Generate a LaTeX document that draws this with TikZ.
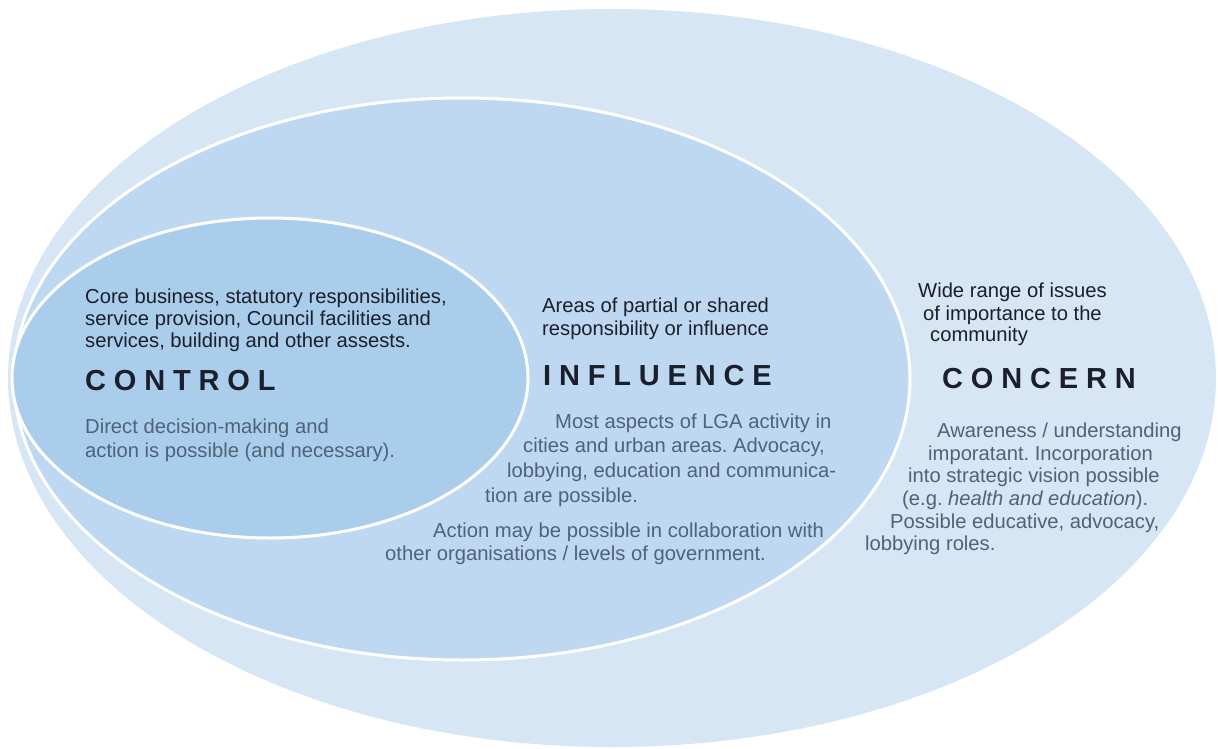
\documentclass[tikz,border=0pt]{standalone}
\usepackage{fontspec}
\setmainfont{Liberation Sans}
\usetikzlibrary{shapes.geometric}
\definecolor{concernfill}{HTML}{D6E6F5}
\definecolor{influencefill}{HTML}{BED8F1}
\definecolor{controlfill}{HTML}{AACDEC}
\definecolor{darktext}{HTML}{1B1E2B}
\definecolor{graytext}{HTML}{4E6278}
\tikzset{
  zone/.style={ellipse, inner sep=0pt, outer sep=0pt},
  body/.style={anchor=base west, inner sep=0pt, text=darktext,
    font=\fontsize{20.2}{23}\selectfont\frenchspacing},
  note/.style={body, text=graytext},
  heading/.style={anchor=base west, inner sep=0pt, text=darktext,
    font=\fontsize{29}{34}\selectfont\bfseries\addfontfeature{LetterSpace=27}}
}
\begin{document}
\begin{tikzpicture}[x=1pt,y=-1pt]
\useasboundingbox (0,0) rectangle (1218,749);
% ellipses
\node[zone, fill=concernfill, minimum width=1208pt, minimum height=738pt] (concern) at (612,378) {};
\node[zone, fill=influencefill, draw=white, line width=3pt, minimum width=896pt, minimum height=562pt] (influence) at (462,379) {};
\node[zone, fill=controlfill, draw=white, line width=3pt, minimum width=516pt, minimum height=320pt] (control) at (270,378) {};
% CONTROL
\node[body] (c1) at (85,303) {Core business, statutory responsibilities,};
\node[body] (c2) at (85,325) {service provision, Council facilities and};
\node[body] (c3) at (85,347) {services, building and other assests.};
\node[heading] (ch) at (85,390) {CONTROL};
\node[note] (c4) at (85,433) {Direct decision-making and};
\node[note] (c5) at (85,457) {action is possible (and necessary).};
% INFLUENCE
\node[body] (i1) at (542,312) {Areas of partial or shared};
\node[body] (i2) at (542,335) {responsibility or influence};
\node[heading] (ih) at (543,385) {INFLUENCE};
\node[note] (i3) at (555,428) {Most aspects of LGA activity in};
\node[note] (i4) at (523,452) {cities and urban areas. Advocacy,};
\node[note] (i5) at (507,477) {lobbying, education and communica-};
\node[note] (i6) at (485,502) {tion are possible.};
\node[note] (i7) at (433,537) {Action may be possible in collaboration with};
\node[note] (i8) at (385,560) {other organisations / levels of government.};
% CONCERN
\node[body] (k1) at (918,297) {Wide range of issues};
\node[body] (k2) at (923,320) {of importance to the};
\node[body] (k3) at (930,341) {community};
\node[heading] (kh) at (942,388) {CONCERN};
\node[note] (k4) at (937,437) {Awareness / understanding};
\node[note] (k5) at (928,460) {imporatant. Incorporation};
\node[note] (k6) at (908,482) {into strategic vision possible};
\node[note] (k7) at (902,505) {(e.g. \textit{health and education}).};
\node[note] (k8) at (890,528) {Possible educative, advocacy,};
\node[note] (k9) at (865,550) {lobbying roles.};
\end{tikzpicture}
\end{document}
